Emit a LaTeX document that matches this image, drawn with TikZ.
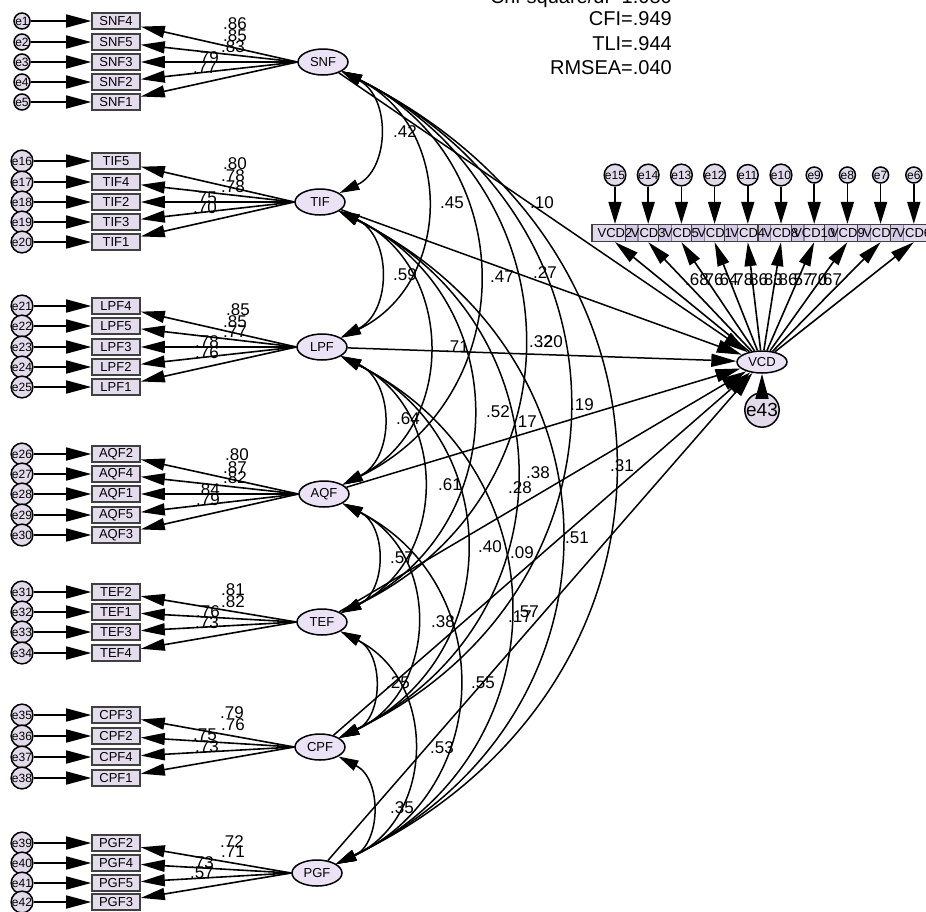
\documentclass[tikz,border=0pt]{standalone}
\usepackage{fontspec}
\setmainfont{Liberation Sans}
\usetikzlibrary{arrows.meta,shapes.geometric}
\definecolor{boxfill}{RGB}{228,220,236}
\definecolor{latfill}{RGB}{236,226,246}
\definecolor{errfill}{RGB}{226,218,234}
\definecolor{vfill}{RGB}{200,186,222}
\begin{document}
\begin{tikzpicture}[x=1pt,y=-1pt,
  ind/.style={draw=black!75, line width=1.6pt, fill=boxfill, minimum width=48pt, minimum height=16pt, inner sep=0pt, font=\fontsize{13}{13}\selectfont},
  vind/.style={draw=black!75, line width=1.3pt, fill=vfill, fill opacity=0.55, draw opacity=1, minimum width=46pt, minimum height=17pt, inner sep=0pt},
  lat/.style={ellipse, draw, line width=1.5pt, fill=latfill, minimum width=50pt, minimum height=26pt, inner sep=0pt, font=\fontsize{13}{13}\selectfont},
  err/.style={circle, draw, line width=1.5pt, fill=errfill, minimum size=16pt, inner sep=0pt, font=\fontsize{12}{12}\selectfont},
  ea/.style={line width=1.6pt, -{Triangle[length=25pt,width=13pt]}},
  va/.style={line width=1.6pt, -{Triangle[length=22pt,width=13pt]}},
  ld/.style={line width=1.6pt, -{Triangle[length=24pt,width=12pt]}},
  covar/.style={line width=1.5pt, {Triangle[length=20pt,width=11pt]}-{Triangle[length=20pt,width=11pt]}},
  regr/.style={line width=1.5pt, -{Triangle[length=25pt,width=13pt]}},
  num/.style={inner sep=0pt, font=\fontsize{17}{17}\selectfont},
  fit/.style={anchor=east, inner sep=0pt, font=\fontsize{20}{20}\selectfont}
]
\useasboundingbox (0,0) rectangle (926,911);

% fit indices
\node[fit, anchor=base east] at (672,3) {Chi-square/df=1.080};
\node[fit] at (672,19) {CFI=.949};
\node[fit] at (672,44) {TLI=.944};
\node[fit] at (672,68) {RMSEA=.040};

% latent factors
\node[lat] (SNF) at (323,62) {SNF};
\node[lat] (TIF) at (320,202) {TIF};
\node[lat] (LPF) at (322,347) {LPF};
\node[lat] (AQF) at (324,494) {AQF};
\node[lat] (TEF) at (322,622) {TEF};
\node[lat] (CPF) at (320,747) {CPF};
\node[lat] (PGF) at (317,873) {PGF};
\node[lat, minimum width=50pt, minimum height=22pt] (VCD) at (762,362) {VCD};

% covariances
\foreach \a/\b/\lo in {SNF/TIF/1.17,TIF/LPF/1.17,LPF/AQF/1.17,AQF/TEF/1.17,TEF/CPF/1.17,CPF/PGF/1.17,
  SNF/LPF/1.2,TIF/AQF/1.2,LPF/TEF/1.2,AQF/CPF/1.2,TEF/PGF/1.2,
  SNF/AQF/1.24,TIF/TEF/1.24,LPF/CPF/1.24,AQF/PGF/1.24,
  SNF/TEF/1.27,TIF/CPF/1.27,LPF/PGF/1.27,
  SNF/CPF/1.29,TIF/PGF/1.29,
  SNF/PGF/1.31}
  \draw[covar] (\a) to[bend left=64, looseness=\lo] (\b);

% regressions to VCD
\foreach \a in {SNF,TIF,LPF,AQF,TEF,CPF,PGF}
  \draw[regr] (\a) -- (VCD);

% measurement groups
\foreach \n/\y/\e in {SNF4/21/e1,SNF5/42/e2,SNF3/62/e3,SNF2/82/e4,SNF1/102/e5}{
  \node[ind] (\n) at (116,\y) {\n};
  \node[err] (\e) at (22,\y) {\e};
  \draw[ea] (\e) -- (\n);
  \draw[ld] (SNF.west) -- (\n);
}
\foreach \n/\y/\e in {TIF5/161/e16,TIF4/182/e17,TIF2/202/e18,TIF3/222/e19,TIF1/242/e20}{
  \node[ind] (\n) at (116,\y) {\n};
  \node[err] (\e) at (22,\y) {\e};
  \draw[ea] (\e) -- (\n);
  \draw[ld] (TIF.west) -- (\n);
}
\foreach \n/\y/\e in {LPF4/306/e21,LPF5/326/e22,LPF3/347/e23,LPF2/367/e24,LPF1/387/e25}{
  \node[ind] (\n) at (116,\y) {\n};
  \node[err] (\e) at (22,\y) {\e};
  \draw[ea] (\e) -- (\n);
  \draw[ld] (LPF.west) -- (\n);
}
\foreach \n/\y/\e in {AQF2/454/e26,AQF4/474/e27,AQF1/494/e28,AQF5/515/e29,AQF3/535/e30}{
  \node[ind] (\n) at (116,\y) {\n};
  \node[err] (\e) at (22,\y) {\e};
  \draw[ea] (\e) -- (\n);
  \draw[ld] (AQF.west) -- (\n);
}
\foreach \n/\y/\e in {TEF2/592/e31,TEF1/612/e32,TEF3/632/e33,TEF4/653/e34}{
  \node[ind] (\n) at (116,\y) {\n};
  \node[err] (\e) at (22,\y) {\e};
  \draw[ea] (\e) -- (\n);
  \draw[ld] (TEF.west) -- (\n);
}
\foreach \n/\y/\e in {CPF3/715/e35,CPF2/736/e36,CPF4/757/e37,CPF1/778/e38}{
  \node[ind] (\n) at (116,\y) {\n};
  \node[err] (\e) at (22,\y) {\e};
  \draw[ea] (\e) -- (\n);
  \draw[ld] (CPF.west) -- (\n);
}
\foreach \n/\y/\e in {PGF2/843/e39,PGF4/863/e40,PGF5/883/e41,PGF3/902/e42}{
  \node[ind] (\n) at (116,\y) {\n};
  \node[err] (\e) at (22,\y) {\e};
  \draw[ea] (\e) -- (\n);
  \draw[ld] (PGF.west) -- (\n);
}

% loading labels
\foreach \t/\x/\y in {.86/235/24,.85/235/36,.83/233/47,.79/207/58,.77/205/68,
  .80/235/164,.78/233/176,.78/233/187,.75/205/198,.70/205/208,
  .85/238/310,.85/235/322,.77/235/332,.78/207/342,.76/207/353,
  .80/237/455,.87/235/468,.82/235/478,.84/208/490,.79/208/500,
  .81/233/590,.82/233/602,.76/208/612,.73/207/623,
  .79/232/713,.76/233/725,.75/205/735,.73/207/747,
  .72/232/842,.71/233/852,.73/202/863,.57/202/873}
  \node[num] at (\x,\y) {\t};

% covariance / regression labels
\foreach \t/\x/\y in {.42/405/132,.45/452/203,.10/542/203,.59/405/275,.47/502/277,.27/545/273,
  .71/457/347,.32/541/342,.20/551/342,.64/408/419,.52/498/412,.17/525/422,.19/582/405,
  .61/450/485,.38/538/473,.28/520/488,.31/622/466,.57/402/558,.40/490/547,.09/522/553,
  .51/577/538,.17/520/617,.57/527/612,.38/443/622,.25/398/683,.55/483/683,.53/442/748,.35/402/808}
  \node[num] at (\x,\y) {\t};

% VCD indicators
\foreach \n/\e [count=\i] in {VCD2/e15,VCD3/e14,VCD5/e13,VCD1/e12,VCD4/e11,VCD8/e10,VCD10/e9,VCD9/e8,VCD7/e7,VCD6/e6}{
  \pgfmathsetmacro\vx{615+(\i-1)*33.2}
  \node[vind] (\n) at (\vx,233) {};
  \node[err] (\e) at (\vx,175) {\e};
  \draw[va] (\e) -- (\n);
  \draw[ld] (VCD) -- (\n.south);
}
\foreach \n in {VCD2,VCD3,VCD5,VCD1,VCD4,VCD8,VCD10,VCD9,VCD7,VCD6}
  \node[inner sep=0pt, font=\fontsize{13}{13}\selectfont] at (\n) {\n};
\foreach \t [count=\i] in {.68,.76,.64,.78,.86,.83,.86,.57,.70,.67}
  \node[num] at ({697+(\i-1)*14.8},280) {\t};

% VCD disturbance
\node[err, minimum size=18pt, font=\fontsize{19}{19}\selectfont] (e43) at (762,410) {e43};
\draw[ea] (e43) -- (VCD);
\end{tikzpicture}
\end{document}
